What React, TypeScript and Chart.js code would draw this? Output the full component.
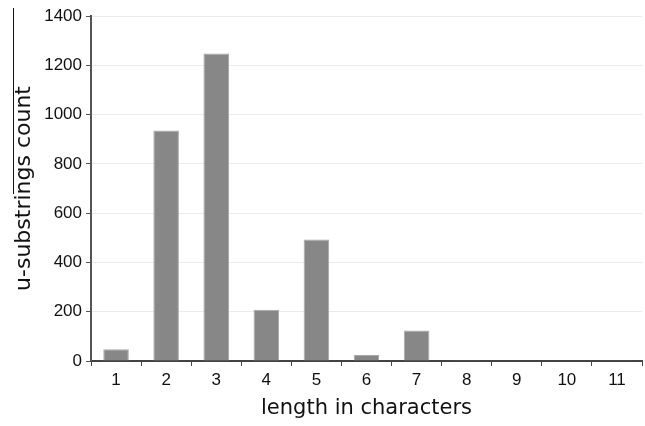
import React, { useEffect, useRef } from "react";
import { Chart, registerables } from "chart.js";

Chart.register(...registerables);

const categories = ["1", "2", "3", "4", "5", "6", "7", "8", "9", "10", "11"];
const counts = [48, 935, 1248, 208, 493, 24, 124, 3, 2, 2, 1];
const yTicks = [0, 200, 400, 600, 800, 1000, 1200, 1400];
const xTitle = "length in characters";
const yTitle = "u-substrings count";

const sideLine = {
  id: "sideLine",
  afterDraw(chart: any) {
    const ctx = chart.ctx;
    ctx.save();
    ctx.strokeStyle = "#111";
    ctx.lineWidth = 1;
    ctx.beginPath();
    ctx.moveTo(13.5, 8);
    ctx.lineTo(13.5, 194);
    ctx.stroke();
    ctx.restore();
  },
};

export default function App() {
  const ref = useRef<HTMLCanvasElement>(null);
  useEffect(() => {
    if (!ref.current) return;
    const chart = new Chart(ref.current, {
      type: "bar",
      data: {
        labels: categories,
        datasets: [
          {
            data: counts,
            backgroundColor: "#878787",
            borderColor: "#a8a8a8",
            borderWidth: 1,
            barPercentage: 0.51,
            categoryPercentage: 1,
          },
        ],
      },
      plugins: [sideLine],
      options: {
        responsive: false,
        animation: false,
        layout: { padding: { left: 0, top: 16, right: 3, bottom: 5 } },
        plugins: { legend: { display: false }, tooltip: { enabled: false } },
        scales: {
          x: {
            afterFit: (s: any) => {
              s.height = 60;
            },
            grid: {
              offset: true,
              drawOnChartArea: true,
              color: (c: any) => (c.index === categories.length ? "#e4e4e4" : "rgba(0,0,0,0)"),
              drawTicks: true,
              tickLength: 5,
              tickColor: "#444",
              tickWidth: 1,
            },
            border: { color: "#444", width: 2 },
            ticks: {
              color: "#111",
              padding: 4,
              font: { family: "Liberation Sans", size: 17 },
            },
            title: {
              display: true,
              text: xTitle,
              color: "#111",
              font: { family: "DejaVu Sans", size: 21 },
              padding: { top: 0, bottom: 0 },
            },
          },
          y: {
            min: 0,
            max: 1400,
            afterFit: (s: any) => {
              s.width = 91;
            },
            afterBuildTicks: (s: any) => {
              s.ticks = yTicks.map((v) => ({ value: v }));
            },
            grid: {
              color: "#ebebeb",
              tickColor: "#555",
              tickLength: 5,
              drawTicks: true,
            },
            border: { color: "#555", width: 2 },
            ticks: {
              color: "#111",
              padding: 4,
              font: { family: "Liberation Sans", size: 17 },
              callback: (v: any) => String(v),
            },
            title: {
              display: true,
              text: yTitle,
              color: "#111",
              font: { family: "DejaVu Sans", size: 22 },
              padding: { top: 11, bottom: 0 },
            },
          },
        },
      },
    });
    return () => chart.destroy();
  }, []);
  return (
    <div style={{ position: "absolute", left: 0, top: 0, width: 645, height: 426, background: "#fff" }}>
      <canvas ref={ref} width={645} height={426} />
    </div>
  );
}
